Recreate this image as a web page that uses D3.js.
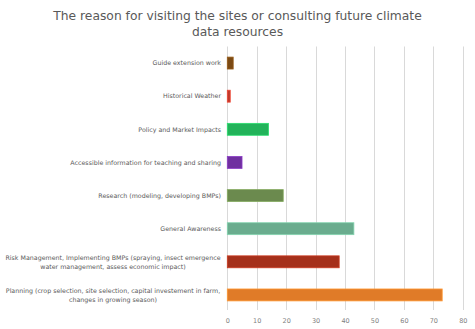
<!DOCTYPE html>
<html><head><meta charset="utf-8">
<script src="https://cdn.jsdelivr.net/npm/d3@7"></script>
<style>html,body{margin:0;padding:0;background:#fff;}svg{display:block;}</style>
</head><body>
<script>
const categories = [
  ["Guide extension work"],
  ["Historical Weather"],
  ["Policy and Market Impacts"],
  ["Accessible information for teaching and sharing"],
  ["Research (modeling, developing BMPs)"],
  ["General Awareness"],
  ["Risk Management, Implementing BMPs (spraying, insect emergence", "water management, assess economic impact)"],
  ["Planning (crop selection, site selection, capital investement in farm,", "changes in growing season)"]
];
const values = [2, 1, 14, 5, 19, 43, 38, 73];
const colors = ["#7b4a14", "#c0392b", "#22b35a", "#7030a0", "#6b8a4e", "#6aac8e", "#a5301b", "#e07b28"];
const xTicks = [0, 10, 20, 30, 40, 50, 60, 70, 80];
const titleLines = ["The reason for visiting the sites or consulting future climate", "data resources"];

const W = 475, H = 329;
const font = "'DejaVu Sans', sans-serif";
const svg = d3.select("body").append("svg").attr("width", W).attr("height", H);

const x = d3.scaleLinear().domain([0, 80]).range([227.3, 462.8]);
const y = d3.scaleBand().domain(d3.range(categories.length)).range([46.5, 311.5]).paddingInner(0.64).paddingOuter(0.32);

// gridlines
svg.append("g").selectAll("line").data(xTicks).join("line")
  .attr("x1", d => Math.round(x(d)) + 0.5).attr("x2", d => Math.round(x(d)) + 0.5)
  .attr("y1", 46.5).attr("y2", 310)
  .attr("stroke", "#d9d9d9").attr("stroke-width", 1);

// bars
svg.append("g").selectAll("rect").data(values).join("rect")
  .attr("x", x(0)).attr("y", (d, i) => y(i))
  .attr("width", d => x(d) - x(0)).attr("height", y.bandwidth())
  .attr("fill", (d, i) => colors[i])
  .attr("stroke", (d, i) => d3.color(colors[i]).brighter(0.6))
  .attr("stroke-width", 0.8);

// x axis labels
const xAxis = d3.axisBottom(x).tickValues(xTicks).tickSize(0).tickPadding(6);
const gx = svg.append("g").attr("transform", "translate(0,312)").call(xAxis);
gx.select(".domain").remove();
gx.selectAll("text").attr("fill", "#7f7f7f").style("font-family", font).style("font-size", "6.5px");

// category labels
const lg = svg.append("g");
categories.forEach((lines, i) => {
  const cy = y(i) + y.bandwidth() / 2;
  if (lines.length === 1) {
    lg.append("text").attr("x", 221).attr("y", cy).attr("dy", "0.35em")
      .attr("text-anchor", "end").attr("fill", "#595959")
      .style("font-family", font).style("font-size", "6.3px").text(lines[0]);
  } else {
    lines.forEach((t, k) => {
      lg.append("text").attr("x", 113).attr("y", cy + (k - 0.5) * 9).attr("dy", "0.35em")
        .attr("text-anchor", "middle").attr("fill", "#595959")
        .style("font-family", font).style("font-size", "6.3px").text(t);
    });
  }
});

// title
svg.append("g").selectAll("text").data(titleLines).join("text")
  .attr("x", W / 2).attr("y", (d, i) => 15.5 + i * 16.5).attr("dy", "0.35em")
  .attr("text-anchor", "middle").attr("fill", "#595959")
  .style("font-family", font).style("font-size", "12.3px").text(d => d);
</script>
</body></html>
